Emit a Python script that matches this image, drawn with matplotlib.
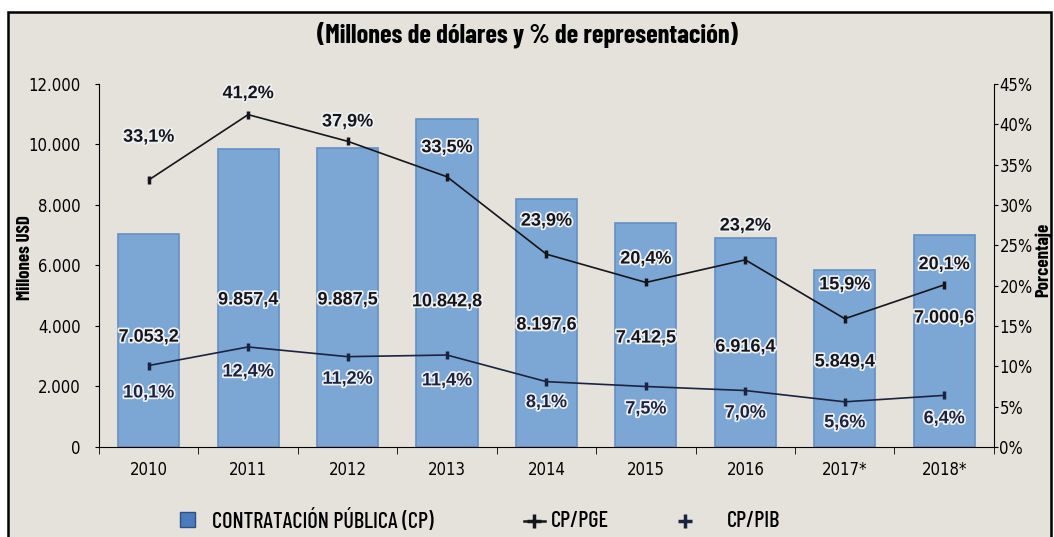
import matplotlib.pyplot as plt
import matplotlib.patheffects as pe
from matplotlib.patches import Rectangle
from matplotlib.lines import Line2D
import numpy as np

# datos
anios = ['2010', '2011', '2012', '2013', '2014', '2015', '2016', '2017*', '2018*']
contratacion = [7053.2, 9857.4, 9887.5, 10842.8, 8197.6, 7412.5, 6916.4, 5849.4, 7000.6]
cp_pge = [33.1, 41.2, 37.9, 33.5, 23.9, 20.4, 23.2, 15.9, 20.1]
cp_pib = [10.1, 12.4, 11.2, 11.4, 8.1, 7.5, 7.0, 5.6, 6.4]
series_leyenda = ['CONTRATACIÓN PÚBLICA (CP)', 'CP/PGE', 'CP/PIB']

# altura de cada etiqueta (en unidades de su eje)
y_etq_barra = [3630, 4860, 4860, 4800, 4030, 3600, 3300, 2810, 4260]
y_etq_pge = [38.4, 43.8, 40.3, 37.1, 28.0, 23.3, 27.4, 20.1, 22.6]
y_etq_pib = [6.7, 9.3, 8.4, 8.2, 5.5, 4.7, 4.2, 3.0, 3.5]

fondo = '#e4e2db'
azul = '#7ca7d4'
negro = '#15151c'
azul_osc = '#1c2340'
f_titulo = ['Barlow Condensed', 'DejaVu Sans']
f_num = ['Liberation Sans', 'DejaVu Sans']
estilo_ticks = dict(fontfamily='DejaVu Sans', fontstretch='condensed', fontsize=12)
halo = [pe.withStroke(linewidth=2.5, foreground='#eef0f2')]

fig = plt.figure(figsize=(10.54, 5.37), dpi=100, facecolor='white')
fig.patches.append(Rectangle((0.0076, -0.05), 0.9895, 1.0277, transform=fig.transFigure,
                             facecolor=fondo, edgecolor='black', linewidth=1.8, zorder=-5))

ax = fig.add_axes([0.0939, 0.1676, 0.8491, 0.676])
ax.set_facecolor('none')
x = np.arange(len(anios))
ax.bar(x, contratacion, width=0.615, color=azul, edgecolor='#6590c3', linewidth=1.2, zorder=2)
ax.set_xlim(-0.5, len(anios) - 0.5)
ax.set_ylim(0, 12000)
ax.set_yticks(np.arange(0, 12001, 2000))
ax.set_yticklabels([f'{v:,}'.replace(',', '.') for v in range(0, 12001, 2000)], **estilo_ticks)
ax.set_xticks(x)
ax.set_xticklabels(anios, **estilo_ticks)
ax.set_xticks(np.arange(-0.5, len(anios), 1), minor=True)
ax.tick_params(axis='x', which='major', length=0, pad=10)
ax.tick_params(axis='x', which='minor', length=5, direction='out')
ax.tick_params(axis='y', length=3, direction='out', pad=10)
for s in ['top', 'right']:
    ax.spines[s].set_visible(False)

for i, v in enumerate(contratacion):
    txt = f'{v:,.1f}'.replace(',', 'X').replace('.', ',').replace('X', '.')
    ax.text(x[i], y_etq_barra[i], txt, ha='center', va='center', fontsize=13,
            fontweight='bold', fontfamily=f_num, color=negro,
            path_effects=halo, zorder=5)

ax2 = ax.twinx()
ax2.set_ylim(0, 45)
ax2.set_yticks(np.arange(0, 46, 5))
ax2.set_yticklabels([f'{v}%' for v in range(0, 46, 5)], **estilo_ticks)
ax2.tick_params(axis='y', length=3, direction='out', pad=1)
for s in ['top', 'left', 'bottom']:
    ax2.spines[s].set_visible(False)
ax2.plot(x, cp_pge, color=negro, linewidth=1.2, marker='|', markersize=6,
         markeredgewidth=2.5, zorder=3)
ax2.plot(x, cp_pib, color=azul_osc, linewidth=1.2, marker='|', markersize=6,
         markeredgewidth=2.5, zorder=3)

for i in range(len(anios)):
    ax2.text(x[i], y_etq_pge[i], f'{cp_pge[i]:.1f}%'.replace('.', ','), ha='center',
             va='center', fontsize=13, fontweight='bold', fontfamily=f_num,
             color=negro, path_effects=halo, zorder=5)
    ax2.text(x[i], y_etq_pib[i], f'{cp_pib[i]:.1f}%'.replace('.', ','), ha='center',
             va='center', fontsize=13, fontweight='bold', fontfamily=f_num,
             color=azul_osc, path_effects=halo, zorder=5)

fig.text(0.5, 0.935, '(Millones de dólares y % de representación)', ha='center',
         va='center', fontsize=19, fontweight='bold', fontfamily=f_titulo)
fig.text(0.024, 0.521, 'Millones USD', rotation=90, ha='center', va='center',
         fontsize=13.5, fontweight='bold', fontfamily=f_titulo)
fig.text(0.99, 0.516, 'Porcentaje', rotation=90, ha='center', va='center',
         fontsize=13.5, fontweight='bold', fontfamily=f_titulo)

# leyenda dibujada a mano para ubicarla como en el original
y_ley = 1 - 521 / 537
fig.patches.append(Rectangle((180 / 1054, 1 - 527 / 537), 15 / 1054, 15 / 537,
                             transform=fig.transFigure, facecolor='#4a7bbd',
                             edgecolor='#2b4f86', linewidth=1))
fig.lines.append(Line2D([524 / 1054, 545 / 1054], [y_ley, y_ley], transform=fig.transFigure,
                        color=negro, linewidth=1.8))
fig.lines.append(Line2D([534 / 1054], [y_ley], transform=fig.transFigure, color=negro,
                        marker='+', markersize=10, markeredgewidth=2.5))
fig.lines.append(Line2D([685 / 1054], [y_ley], transform=fig.transFigure, color=azul_osc,
                        marker='+', markersize=10, markeredgewidth=2.5))
for xt, etiqueta in zip([212, 551, 727], series_leyenda):
    fig.text(xt / 1054, y_ley, etiqueta, ha='left', va='center', fontsize=16,
             fontweight='medium', fontfamily=['Barlow Condensed', 'DejaVu Sans'])

fig.savefig('out.png', dpi=100, facecolor='white')
